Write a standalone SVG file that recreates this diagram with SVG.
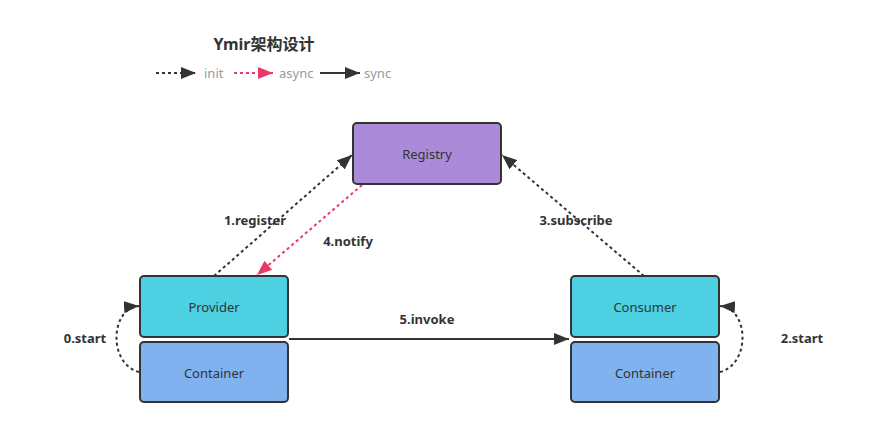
<svg xmlns="http://www.w3.org/2000/svg" width="887" height="428" viewBox="0 0 887 428">
<style>
text{font-family:"Noto Sans","Noto Sans CJK SC",sans-serif;}
.box{stroke:#333;stroke-width:2;}
.nl{font-size:13px;fill:#333;text-anchor:middle;}
.el{font-size:13px;font-weight:bold;fill:#333;text-anchor:middle;}
.lg{font-size:13px;fill:#999;}
.dot{fill:none;stroke:#333;stroke-width:2;stroke-dasharray:3 3;}
.pink{fill:none;stroke:#e83a65;stroke-width:2;stroke-dasharray:3 3;}
.solid{fill:none;stroke:#333;stroke-width:2;}
</style>
<defs>
<marker id="ah" markerUnits="userSpaceOnUse" markerWidth="16" markerHeight="12" refX="15" refY="6" orient="auto"><path d="M0,0 L15,6 L0,12 z" fill="#333"/></marker>
<marker id="ahp" markerUnits="userSpaceOnUse" markerWidth="16" markerHeight="12" refX="15" refY="6" orient="auto"><path d="M0,0 L15,6 L0,12 z" fill="#e83a65"/></marker>
</defs>
<rect width="887" height="428" fill="#fff"/>
<g id="title">
<text x="264" y="50" font-size="16" font-weight="bold" fill="#333" text-anchor="middle">Ymir架构设计</text>
</g>
<g id="legend">
<line x1="156" y1="73" x2="196" y2="73" class="dot" marker-end="url(#ah)"/>
<text x="204" y="78" class="lg">init</text>
<line x1="234" y1="73" x2="273" y2="73" class="pink" marker-end="url(#ahp)"/>
<text x="279" y="78" class="lg">async</text>
<line x1="320" y1="73" x2="360" y2="73" class="solid" marker-end="url(#ah)"/>
<text x="364" y="78" class="lg">sync</text>
</g>
<g id="connectors">
<line x1="214" y1="276" x2="352" y2="155" class="dot" marker-end="url(#ah)"/>
<line x1="362" y1="185" x2="257" y2="275" class="pink" marker-end="url(#ahp)"/>
<line x1="644" y1="276" x2="502" y2="155" class="dot" marker-end="url(#ah)"/>
<line x1="289" y1="339" x2="569" y2="339" class="solid" marker-end="url(#ah)"/>
<path d="M139,372 C108,364 110,308 139,306" class="dot" marker-end="url(#ah)"/>
<path d="M720,372 C751,364 749,308 720,306" class="dot" marker-end="url(#ah)"/>
<text x="255" y="225" class="el">1.register</text>
<text x="348" y="246" class="el">4.notify</text>
<text x="576" y="225" class="el">3.subscribe</text>
<text x="427" y="324" class="el">5.invoke</text>
<text x="85" y="343" class="el">0.start</text>
<text x="802" y="343" class="el">2.start</text>
</g>
<g id="registry">
<rect x="353" y="123" width="148" height="61" rx="4" fill="#ab8bd9" class="box"/>
<text x="427" y="159" class="nl">Registry</text>
</g>
<g id="provider">
<rect x="140" y="276" width="148" height="61" rx="4" fill="#4dd0e1" class="box"/>
<text x="214" y="312" class="nl">Provider</text>
</g>
<g id="provider-container">
<rect x="140" y="342" width="148" height="60" rx="4" fill="#7fb2ee" class="box"/>
<text x="214" y="378" class="nl">Container</text>
</g>
<g id="consumer">
<rect x="571" y="276" width="148" height="61" rx="4" fill="#4dd0e1" class="box"/>
<text x="645" y="312" class="nl">Consumer</text>
</g>
<g id="consumer-container">
<rect x="571" y="342" width="148" height="60" rx="4" fill="#7fb2ee" class="box"/>
<text x="645" y="378" class="nl">Container</text>
</g>
</svg>
